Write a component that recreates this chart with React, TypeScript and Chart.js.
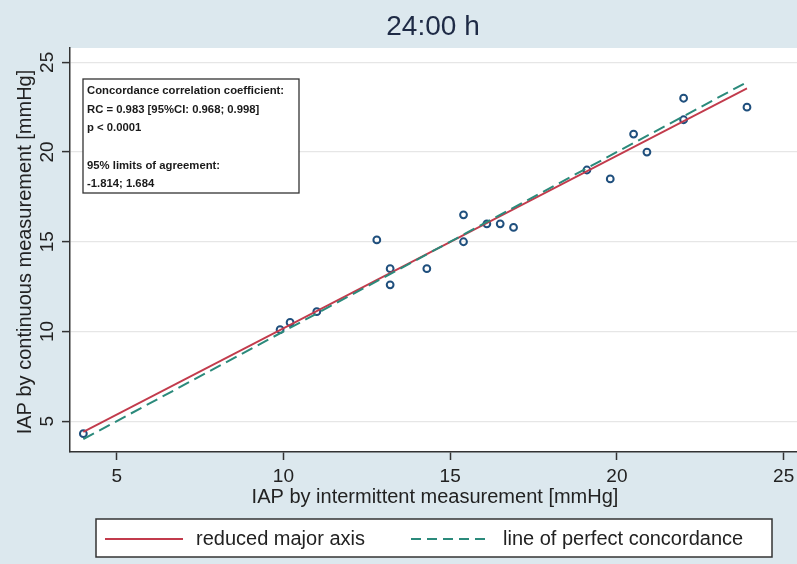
import React, { useEffect, useRef } from "react";
import { Chart, registerables } from "chart.js";
Chart.register(...registerables);

// ---- data ----
const intermittent = [4.0, 9.9, 10.2, 11.0, 12.8, 13.2, 13.2, 14.3, 15.4, 15.4, 16.1, 16.5, 16.9, 19.1, 19.8, 20.5, 20.9, 22.0, 22.0, 23.9];
const continuous = [4.3, 10.1, 10.5, 11.1, 15.1, 13.5, 12.6, 13.5, 16.5, 15.0, 16.0, 16.0, 15.8, 19.0, 18.5, 21.0, 20.0, 23.0, 21.8, 22.5];
const rmaX = [4.0, 23.9];
const rmaY = [4.4, 23.55];
const concX = [4.0, 23.9];
const concY = [4.0, 23.9];
const xTicks = [5, 10, 15, 20, 25];
const yTicks = [5, 10, 15, 20, 25];
const titleText = "24:00 h";
const xTitle = "IAP by intermittent measurement [mmHg]";
const yTitle = "IAP by continuous measurement [mmHg]";
const boxLines = [
  "Concordance correlation coefficient:",
  "RC = 0.983 [95%CI: 0.968; 0.998]",
  "p < 0.0001",
  "",
  "95% limits of agreement:",
  "-1.814; 1.684",
];
const legendLabels = ["reduced major axis", "line of perfect concordance"];

const FONT = "'Liberation Sans', Arial, sans-serif";
const BG = "#dce8ee";
const RED = "#c23b4c";
const GREEN = "#2b8a7b";
const POINT = "#1f4f7d";

const decorPlugin = {
  id: "decor",
  beforeDraw(chart: any) {
    const { ctx, chartArea } = chart;
    ctx.save();
    ctx.fillStyle = BG;
    ctx.fillRect(0, 0, chart.width, chart.height);
    ctx.fillStyle = "#ffffff";
    ctx.fillRect(chartArea.left, chartArea.top, chartArea.right - chartArea.left, chartArea.bottom - chartArea.top);
    ctx.restore();
  },
  afterDraw(chart: any) {
    const { ctx } = chart;
    const ys = chart.scales.y;
    ctx.save();
    // title
    ctx.fillStyle = "#1e2a45";
    ctx.font = `28px ${FONT}`;
    ctx.textAlign = "center";
    ctx.textBaseline = "middle";
    ctx.fillText(titleText, 433, 27);

    // y tick labels (rotated)
    ctx.fillStyle = "#222";
    ctx.font = `19px ${FONT}`;
    ys.ticks.forEach((t: any) => {
      const py = ys.getPixelForValue(t.value);
      ctx.save();
      ctx.translate(48, py);
      ctx.rotate(-Math.PI / 2);
      ctx.textAlign = "center";
      ctx.textBaseline = "middle";
      ctx.fillText(String(t.value), 0, 0);
      ctx.restore();
    });

    // axis titles
    ctx.font = `20px ${FONT}`;
    ctx.fillStyle = "#222";
    ctx.textAlign = "center";
    ctx.textBaseline = "middle";
    ctx.fillText(xTitle, 435, 497);
    ctx.save();
    ctx.translate(25, 252);
    ctx.rotate(-Math.PI / 2);
    ctx.fillText(yTitle, 0, 0);
    ctx.restore();

    // annotation box
    ctx.fillStyle = "#ffffff";
    ctx.fillRect(83, 79, 216, 114);
    ctx.strokeStyle = "#333";
    ctx.lineWidth = 1.3;
    ctx.strokeRect(83, 79, 216, 114);
    ctx.fillStyle = "#1a1a1a";
    ctx.font = `bold 11.3px ${FONT}`;
    ctx.textAlign = "left";
    ctx.textBaseline = "middle";
    boxLines.forEach((l, i) => {
      ctx.fillText(l, 87, 91 + i * 18.6);
    });

    // legend box
    ctx.fillStyle = "#ffffff";
    ctx.fillRect(96, 519, 676, 38);
    ctx.strokeStyle = "#333";
    ctx.lineWidth = 1.5;
    ctx.strokeRect(96, 519, 676, 38);
    ctx.lineWidth = 1.8;
    ctx.strokeStyle = RED;
    ctx.beginPath();
    ctx.moveTo(105, 539);
    ctx.lineTo(183, 539);
    ctx.stroke();
    ctx.strokeStyle = GREEN;
    ctx.setLineDash([10, 6]);
    ctx.beginPath();
    ctx.moveTo(411, 539);
    ctx.lineTo(487, 539);
    ctx.stroke();
    ctx.setLineDash([]);
    ctx.fillStyle = "#222";
    ctx.font = `20px ${FONT}`;
    ctx.textAlign = "left";
    ctx.textBaseline = "middle";
    ctx.fillText(legendLabels[0], 196, 539);
    ctx.fillText(legendLabels[1], 503, 539);
    ctx.restore();
  },
};

export default function App() {
  const ref = useRef<HTMLCanvasElement | null>(null);
  useEffect(() => {
    document.body.style.margin = "0";
    const canvas = ref.current!;
    const chart = new Chart(canvas, {
      type: "scatter",
      data: {
        datasets: [
          {
            label: legendLabels[1],
            data: concX.map((x, i) => ({ x, y: concY[i] })),
            showLine: true,
            borderColor: GREEN,
            borderWidth: 2,
            borderDash: [12, 6],
            pointRadius: 0,
            order: 1,
          },
          {
            label: legendLabels[0],
            data: rmaX.map((x, i) => ({ x, y: rmaY[i] })),
            showLine: true,
            borderColor: RED,
            borderWidth: 1.8,
            pointRadius: 0,
            order: 2,
          },
          {
            label: "observations",
            data: intermittent.map((x, i) => ({ x, y: continuous[i] })),
            pointRadius: 3.4,
            pointBorderWidth: 2,
            borderColor: POINT,
            backgroundColor: "rgba(255,255,255,0)",
            order: 3,
          },
        ],
      },
      options: {
        responsive: false,
        animation: false,
        devicePixelRatio: 1,
        layout: { autoPadding: false, padding: { top: 48, left: 0, right: 0, bottom: 0 } },
        plugins: { legend: { display: false }, tooltip: { enabled: false }, title: { display: false } },
        scales: {
          x: {
            type: "linear",
            min: 3.6,
            max: 25.4,
            afterBuildTicks: (s: any) => {
              s.ticks = xTicks.map((v) => ({ value: v }));
            },
            afterFit: (s: any) => {
              s.height = 112;
              s.paddingLeft = 0;
              s.paddingRight = 0;
            },
            ticks: {
              font: { size: 19, family: FONT },
              color: "#222",
              padding: 5,
              maxRotation: 0,
              minRotation: 0,
            },
            grid: { drawOnChartArea: false, tickColor: "#333", tickLength: 8, tickWidth: 1.5 },
            border: { display: true, color: "#333", width: 1.5 },
          },
          y: {
            type: "linear",
            min: 3.28,
            max: 25.8,
            afterBuildTicks: (s: any) => {
              s.ticks = yTicks.map((v) => ({ value: v }));
            },
            afterFit: (s: any) => {
              s.width = 70;
              s.paddingTop = 0;
              s.paddingBottom = 0;
            },
            ticks: { display: false },
            grid: { color: "#e6e6e6", lineWidth: 1.2, tickColor: "#333", tickLength: 8, tickWidth: 1.5 },
            border: { display: true, color: "#333", width: 1.5 },
          },
        },
      },
      plugins: [decorPlugin],
    });
    return () => chart.destroy();
  }, []);
  return <canvas ref={ref} width={797} height={564} style={{ display: "block", width: 797, height: 564 }} />;
}
